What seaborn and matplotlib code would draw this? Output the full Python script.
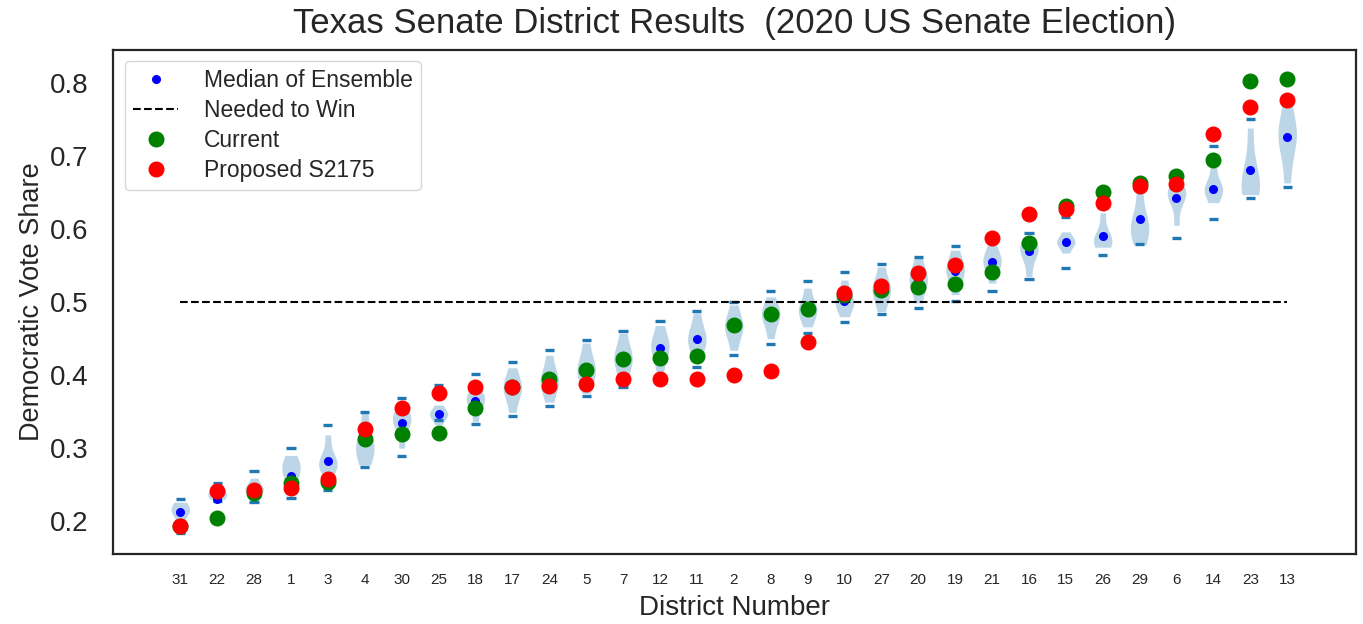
import pandas as pd
import seaborn as sns
import matplotlib
matplotlib.use("Agg")
import matplotlib.pyplot as plt

# districts in plotted order (sorted by ensemble median)
districts = ["31", "22", "28", "1", "3", "4", "30", "25", "18", "17", "24", "5", "7", "12", "11",
             "2", "8", "9", "10", "27", "20", "19", "21", "16", "15", "26", "29", "6", "14", "23", "13"]

# ensemble summary
ens_median = [0.213, 0.230, 0.242, 0.262, 0.282, 0.310, 0.335, 0.347, 0.365, 0.382, 0.392, 0.408,
              0.422, 0.437, 0.450, 0.467, 0.483, 0.490, 0.501, 0.516, 0.531, 0.543, 0.555, 0.570,
              0.582, 0.590, 0.613, 0.643, 0.655, 0.681, 0.726]
ens_min = [0.184, 0.228, 0.226, 0.232, 0.243, 0.274, 0.289, 0.338, 0.333, 0.344, 0.358, 0.371,
           0.384, 0.398, 0.411, 0.427, 0.442, 0.457, 0.472, 0.483, 0.492, 0.502, 0.515, 0.531,
           0.547, 0.564, 0.579, 0.588, 0.614, 0.643, 0.658]
ens_max = [0.231, 0.252, 0.269, 0.300, 0.332, 0.350, 0.369, 0.386, 0.402, 0.418, 0.434, 0.448,
           0.461, 0.474, 0.488, 0.500, 0.515, 0.529, 0.541, 0.552, 0.562, 0.576, 0.586, 0.595,
           0.617, 0.630, 0.655, 0.662, 0.713, 0.751, 0.772]
# visible violin body: low end, widest point, high end
body_lo = [0.190, 0.232, 0.232, 0.242, 0.266, 0.277, 0.300, 0.332, 0.336, 0.349, 0.363, 0.375,
           0.389, 0.403, 0.420, 0.434, 0.450, 0.466, 0.480, 0.487, 0.499, 0.510, 0.526, 0.535,
           0.567, 0.575, 0.578, 0.605, 0.636, 0.647, 0.663]
body_peak = [0.215, 0.240, 0.245, 0.274, 0.280, 0.300, 0.338, 0.346, 0.365, 0.382, 0.392, 0.407,
             0.423, 0.439, 0.450, 0.466, 0.482, 0.489, 0.501, 0.517, 0.530, 0.543, 0.555, 0.571,
             0.582, 0.584, 0.600, 0.648, 0.655, 0.658, 0.726]
body_hi = [0.226, 0.250, 0.259, 0.290, 0.318, 0.348, 0.352, 0.359, 0.379, 0.410, 0.427, 0.444,
           0.457, 0.468, 0.485, 0.496, 0.507, 0.519, 0.530, 0.548, 0.560, 0.571, 0.578, 0.589,
           0.596, 0.622, 0.651, 0.658, 0.684, 0.738, 0.770]

current = [0.193, 0.204, 0.238, 0.252, 0.254, 0.312, 0.320, 0.321, 0.355, 0.384, 0.394, 0.407,
           0.422, 0.424, 0.426, 0.468, 0.483, 0.490, 0.510, 0.517, 0.521, 0.525, 0.541, 0.581,
           0.632, 0.650, 0.663, 0.672, 0.695, 0.803, 0.805]
proposed = [0.193, 0.242, 0.243, 0.246, 0.258, 0.326, 0.355, 0.376, 0.384, 0.384, 0.385, 0.388,
            0.394, 0.394, 0.394, 0.400, 0.405, 0.445, 0.512, 0.522, 0.540, 0.550, 0.587, 0.620,
            0.627, 0.635, 0.659, 0.661, 0.730, 0.767, 0.777]

pos = list(range(len(districts)))

# long-form frame for the violins
rows = []
for i in pos:
    for v in [body_lo[i], body_peak[i], body_peak[i], ens_median[i], body_hi[i]]:
        rows.append({"pos": i, "share": v})
ens = pd.DataFrame(rows)

sns.set_style("white")
plt.rcParams["font.family"] = ["Liberation Sans", "DejaVu Sans"]

fig, ax = plt.subplots(figsize=(13.63, 6.24), dpi=100)
fig.subplots_adjust(left=0.083, right=0.995, top=0.92, bottom=0.112)

sns.violinplot(data=ens, x="pos", y="share", native_scale=True, cut=0, inner=None,
               density_norm="width", width=0.5, color="#bcd6e8", saturation=1,
               linewidth=0, ax=ax)
ax.hlines(ens_min, [p - 0.125 for p in pos], [p + 0.125 for p in pos], color="#1f77b4", lw=2.4)
ax.hlines(ens_max, [p - 0.125 for p in pos], [p + 0.125 for p in pos], color="#1f77b4", lw=2.4)

ax.plot(pos, ens_median, "o", color="blue", ms=5.5, ls="", label="Median of Ensemble")
ax.plot([pos[0], pos[-1]], [0.5, 0.5], "--", color="black", lw=1.5, label="Needed to Win")
ax.plot(pos, current, "o", color="green", ms=10.5, ls="", label="Current")
ax.plot(pos, proposed, "o", color="red", ms=10.5, ls="", label="Proposed S2175")

ax.set_xlim(-1.82, 31.87)
ax.set_ylim(0.155, 0.845)
ax.set_xticks(pos)
ax.set_xticklabels(districts, fontsize=11)
ax.tick_params(axis="x", pad=10)
ax.tick_params(axis="y", labelsize=20, pad=14)
ax.set_xlabel("District Number", fontsize=20, labelpad=6)
ax.set_ylabel("Democratic Vote Share", fontsize=19.5, labelpad=4)
ax.set_title("Texas Senate District Results  (2020 US Senate Election)", fontsize=25, pad=12)
ax.legend(loc="upper left", fontsize=16.5, labelspacing=0.3, borderpad=0.35, handletextpad=1.1)
for s in ax.spines.values():
    s.set_linewidth(1.6)

fig.savefig("out.png", dpi=100)
